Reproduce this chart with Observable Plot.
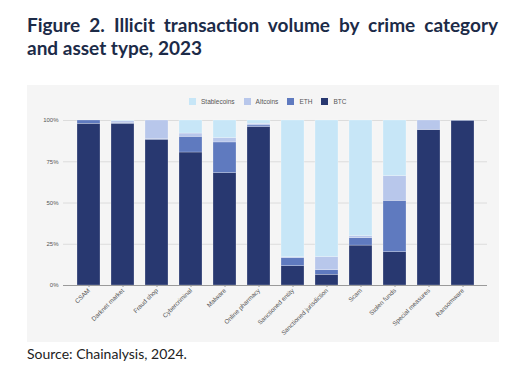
<!DOCTYPE html>
<html>
<head>
<meta charset="utf-8">
<script src="https://cdn.jsdelivr.net/npm/d3@7"></script>
<script src="https://cdn.jsdelivr.net/npm/@observablehq/plot@0.6"></script>
<style>
  html, body { margin: 0; padding: 0; background: #fff; width: 512px; height: 374px; overflow: hidden; }
  #title { position: absolute; left: 27px; top: 13px; width: 471px; font-family: Lato, "Open Sans", sans-serif; font-weight: 700; font-size: 19px; line-height: 23px; color: #1c2b48; }
  #title .l1 { text-align: justify; text-align-last: justify; white-space: normal; }
  #title .l2 { text-align: left; }
  #panel { position: absolute; left: 27px; top: 85px; width: 472px; height: 257px; background: #f5f5f5; }
  #chart { position: absolute; left: 0; top: 0; }
  #legend { position: absolute; left: 162px; top: 13px; display: flex; align-items: center; font-family: "Liberation Sans", Arial, sans-serif; font-size: 6.5px; color: #555; }
  #legend .item { display: flex; align-items: center; margin-right: 9px; }
  #legend .sw { width: 7px; height: 7px; margin-right: 5px; }
  #source { position: absolute; left: 27px; top: 345px; font-family: Lato, "Open Sans", sans-serif; font-size: 14px; color: #222; }
</style>
</head>
<body>
<div id="title"><div class="l1">Figure 2. Illicit transaction volume by crime category</div><div class="l2">and asset type, 2023</div></div>
<div id="panel">
  <div id="chart"></div>
  <div id="legend"></div>
</div>
<div id="source">Source: Chainalysis, 2024.</div>
<script>
const categories = ["CSAM", "Darknet market", "Fraud shop", "Cybercriminal", "Malware", "Online pharmacy", "Sanctioned entity", "Sanctioned jurisdiction", "Scam", "Stolen funds", "Special measures", "Ransomware"];
const btc         = [98.0, 98.0, 88.3, 80.6, 68.1, 96.0, 11.7, 6.5, 24.2, 20.2, 94.1, 99.8];
const eth         = [2.0, 0.5, 0.4, 9.5, 18.6, 1.0, 4.9, 2.8, 4.5, 31.1, 0.3, 0.2];
const altcoins    = [0.0, 1.0, 11.3, 2.0, 2.6, 1.0, 0.5, 7.9, 1.2, 15.0, 5.6, 0.0];
const stablecoins = [0.0, 0.5, 0.0, 7.9, 10.7, 2.0, 82.9, 82.8, 70.1, 33.7, 0.0, 0.0];
const seriesNames = ["BTC", "ETH", "Altcoins", "Stablecoins"];
const legendOrder = ["Stablecoins", "Altcoins", "ETH", "BTC"];
const colors = {BTC: "#283870", ETH: "#5f7abf", Altcoins: "#b8c7eb", Stablecoins: "#c7e6f7"};
const yTicks = [0, 25, 50, 75, 100];

const seriesValues = {BTC: btc, ETH: eth, Altcoins: altcoins, Stablecoins: stablecoins};
const rows = [];
seriesNames.forEach(s => categories.forEach((c, i) => rows.push({category: c, series: s, value: seriesValues[s][i]})));

const chart = Plot.plot({
  width: 472,
  height: 257,
  marginTop: 35,
  marginBottom: 57,
  marginLeft: 36,
  marginRight: 12,
  style: {background: "transparent", fontFamily: "'Liberation Sans', Arial, sans-serif", fontSize: "6px", color: "#555"},
  x: {domain: categories, padding: 0.33, label: null},
  y: {domain: [0, 100], label: null},
  color: {domain: seriesNames, range: seriesNames.map(s => colors[s])},
  marks: [
    Plot.ruleY(yTicks.filter(t => t > 0), {stroke: "#dcdcdc", strokeWidth: 1}),
    Plot.barY(rows, Plot.stackY({order: seriesNames}, {x: "category", y: "value", fill: "series", stroke: "#ffffff", strokeWidth: 0.4, strokeOpacity: 0.6})),
    Plot.ruleY([0], {stroke: "#9a9a9a", strokeWidth: 1}),
    Plot.axisY({ticks: yTicks, tickFormat: d => d + "%", tickSize: 0, tickPadding: 5, fontSize: 6, fill: "#555"}),
    Plot.axisX({tickRotate: -45, tickSize: 2, tickPadding: 2, fontSize: 6.3, fill: "#555", stroke: "#999"})
  ]
});
document.getElementById("chart").appendChild(chart);

const legend = document.getElementById("legend");
legendOrder.forEach(s => {
  const item = document.createElement("div");
  item.className = "item";
  const sw = document.createElement("div");
  sw.className = "sw";
  sw.style.background = colors[s];
  const t = document.createElement("span");
  t.textContent = s;
  item.appendChild(sw);
  item.appendChild(t);
  legend.appendChild(item);
});
</script>
</body>
</html>
